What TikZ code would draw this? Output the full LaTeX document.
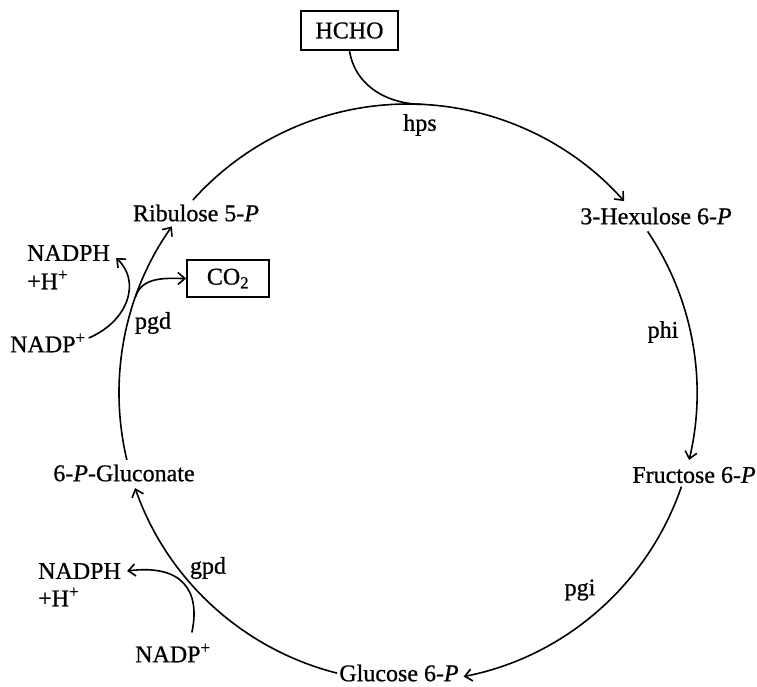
\documentclass[tikz,border=0pt]{standalone}
\usepackage{fontspec}
\setmainfont{Liberation Serif}[FakeBold=0.8]
\usetikzlibrary{arrows.meta,calc}
\begin{document}
\begin{tikzpicture}[x=1pt,y=1pt,
  every node/.style={font=\fontsize{24}{28}\selectfont},
  lbl/.style={inner sep=0pt},
  boxnode/.style={draw,line width=1.7pt,inner sep=0pt},
  flow/.style={line width=1.6pt,-{Straight Barb[length=7pt,width=12pt,line width=1.6pt]}},
  plain/.style={line width=1.6pt}]
\useasboundingbox (0,0) rectangle (757,686);
\coordinate (O) at (408,293);
% nodes
\node[boxnode,minimum width=97pt,minimum height=39pt] (hcho) at (349.5,655.5) {HCHO};
\node[boxnode,minimum width=82pt,minimum height=37pt] (co2) at (228,407.5) {CO\textsubscript{2}};
\node[lbl] (hps) at (420,561) {hps};
\node[lbl] (hex) at (656,470) {3-Hexulose 6-\textit{P}};
\node[lbl] (phi) at (663,354) {phi};
\node[lbl] (fru) at (694,211) {Fructose 6-\textit{P}};
\node[lbl] (pgi) at (580,96) {pgi};
\node[lbl] (glc) at (399,13) {Glucose 6-\textit{P}};
\node[lbl] (glcn) at (124,213) {6-\textit{P}-Gluconate};
\node[lbl] (gpd) at (208,118) {gpd};
\node[lbl,anchor=west] (nadphB) at (38,115) {NADPH};
\node[lbl,anchor=west] (hB) at (38,89) {+H\textsuperscript{+}};
\node[lbl,anchor=west] (nadpB) at (135,33) {NADP\textsuperscript{+}};
\node[lbl,anchor=west] (nadphA) at (27,433) {NADPH};
\node[lbl,anchor=west] (hA) at (27,406) {+H\textsuperscript{+}};
\node[lbl,anchor=west] (nadpA) at (10,343) {NADP\textsuperscript{+}};
\node[lbl] (pgd) at (153,363) {pgd};
\node[lbl] (rib) at (196,473) {Ribulose 5-\textit{P}};
% circle coordinates
\coordinate (a1) at ($(O)+(138.1:289)$);
\coordinate (a2) at ($(O)+(34:289)$);
\coordinate (a3) at ($(O)+(-18.9:289)$);
\coordinate (a4) at ($(O)+(-104.2:289)$);
\coordinate (a5) at ($(O)+(-166.6:289)$);
\coordinate (hpsin) at ($(O)+(87:289)$);
\coordinate (split) at ($(O)+(160.5:289)$);
% cycle
\draw[flow] (a1) arc[start angle=138.1,end angle=41.6,radius=289];
\draw[flow] (a2) arc[start angle=34,end angle=-13.4,radius=289];
\draw[flow] (a3) arc[start angle=-18.9,end angle=-78.9,radius=289];
\draw[flow] (a4) arc[start angle=-104.2,end angle=-160.8,radius=289];
\draw[flow] (a5) arc[start angle=-166.6,end angle=-215.2,radius=289];
% side reactions
\draw[plain] (hcho.south) .. controls +(-81:36) and +(180:35) .. (hpsin);
\draw[flow] ([xshift=19pt,yshift=11pt]nadpB.north) .. controls +(9,42) and +(55,7) .. ([xshift=6pt]nadphB.east);
\draw[flow] ([xshift=3pt,yshift=5pt]nadpA.east) .. controls +(40,17) and +(25,-23) .. ([xshift=6pt,yshift=-5pt]nadphA.east);
\draw[flow] (split) .. controls +(72:22) and +(180:18) .. (co2.west);
\end{tikzpicture}
\end{document}
